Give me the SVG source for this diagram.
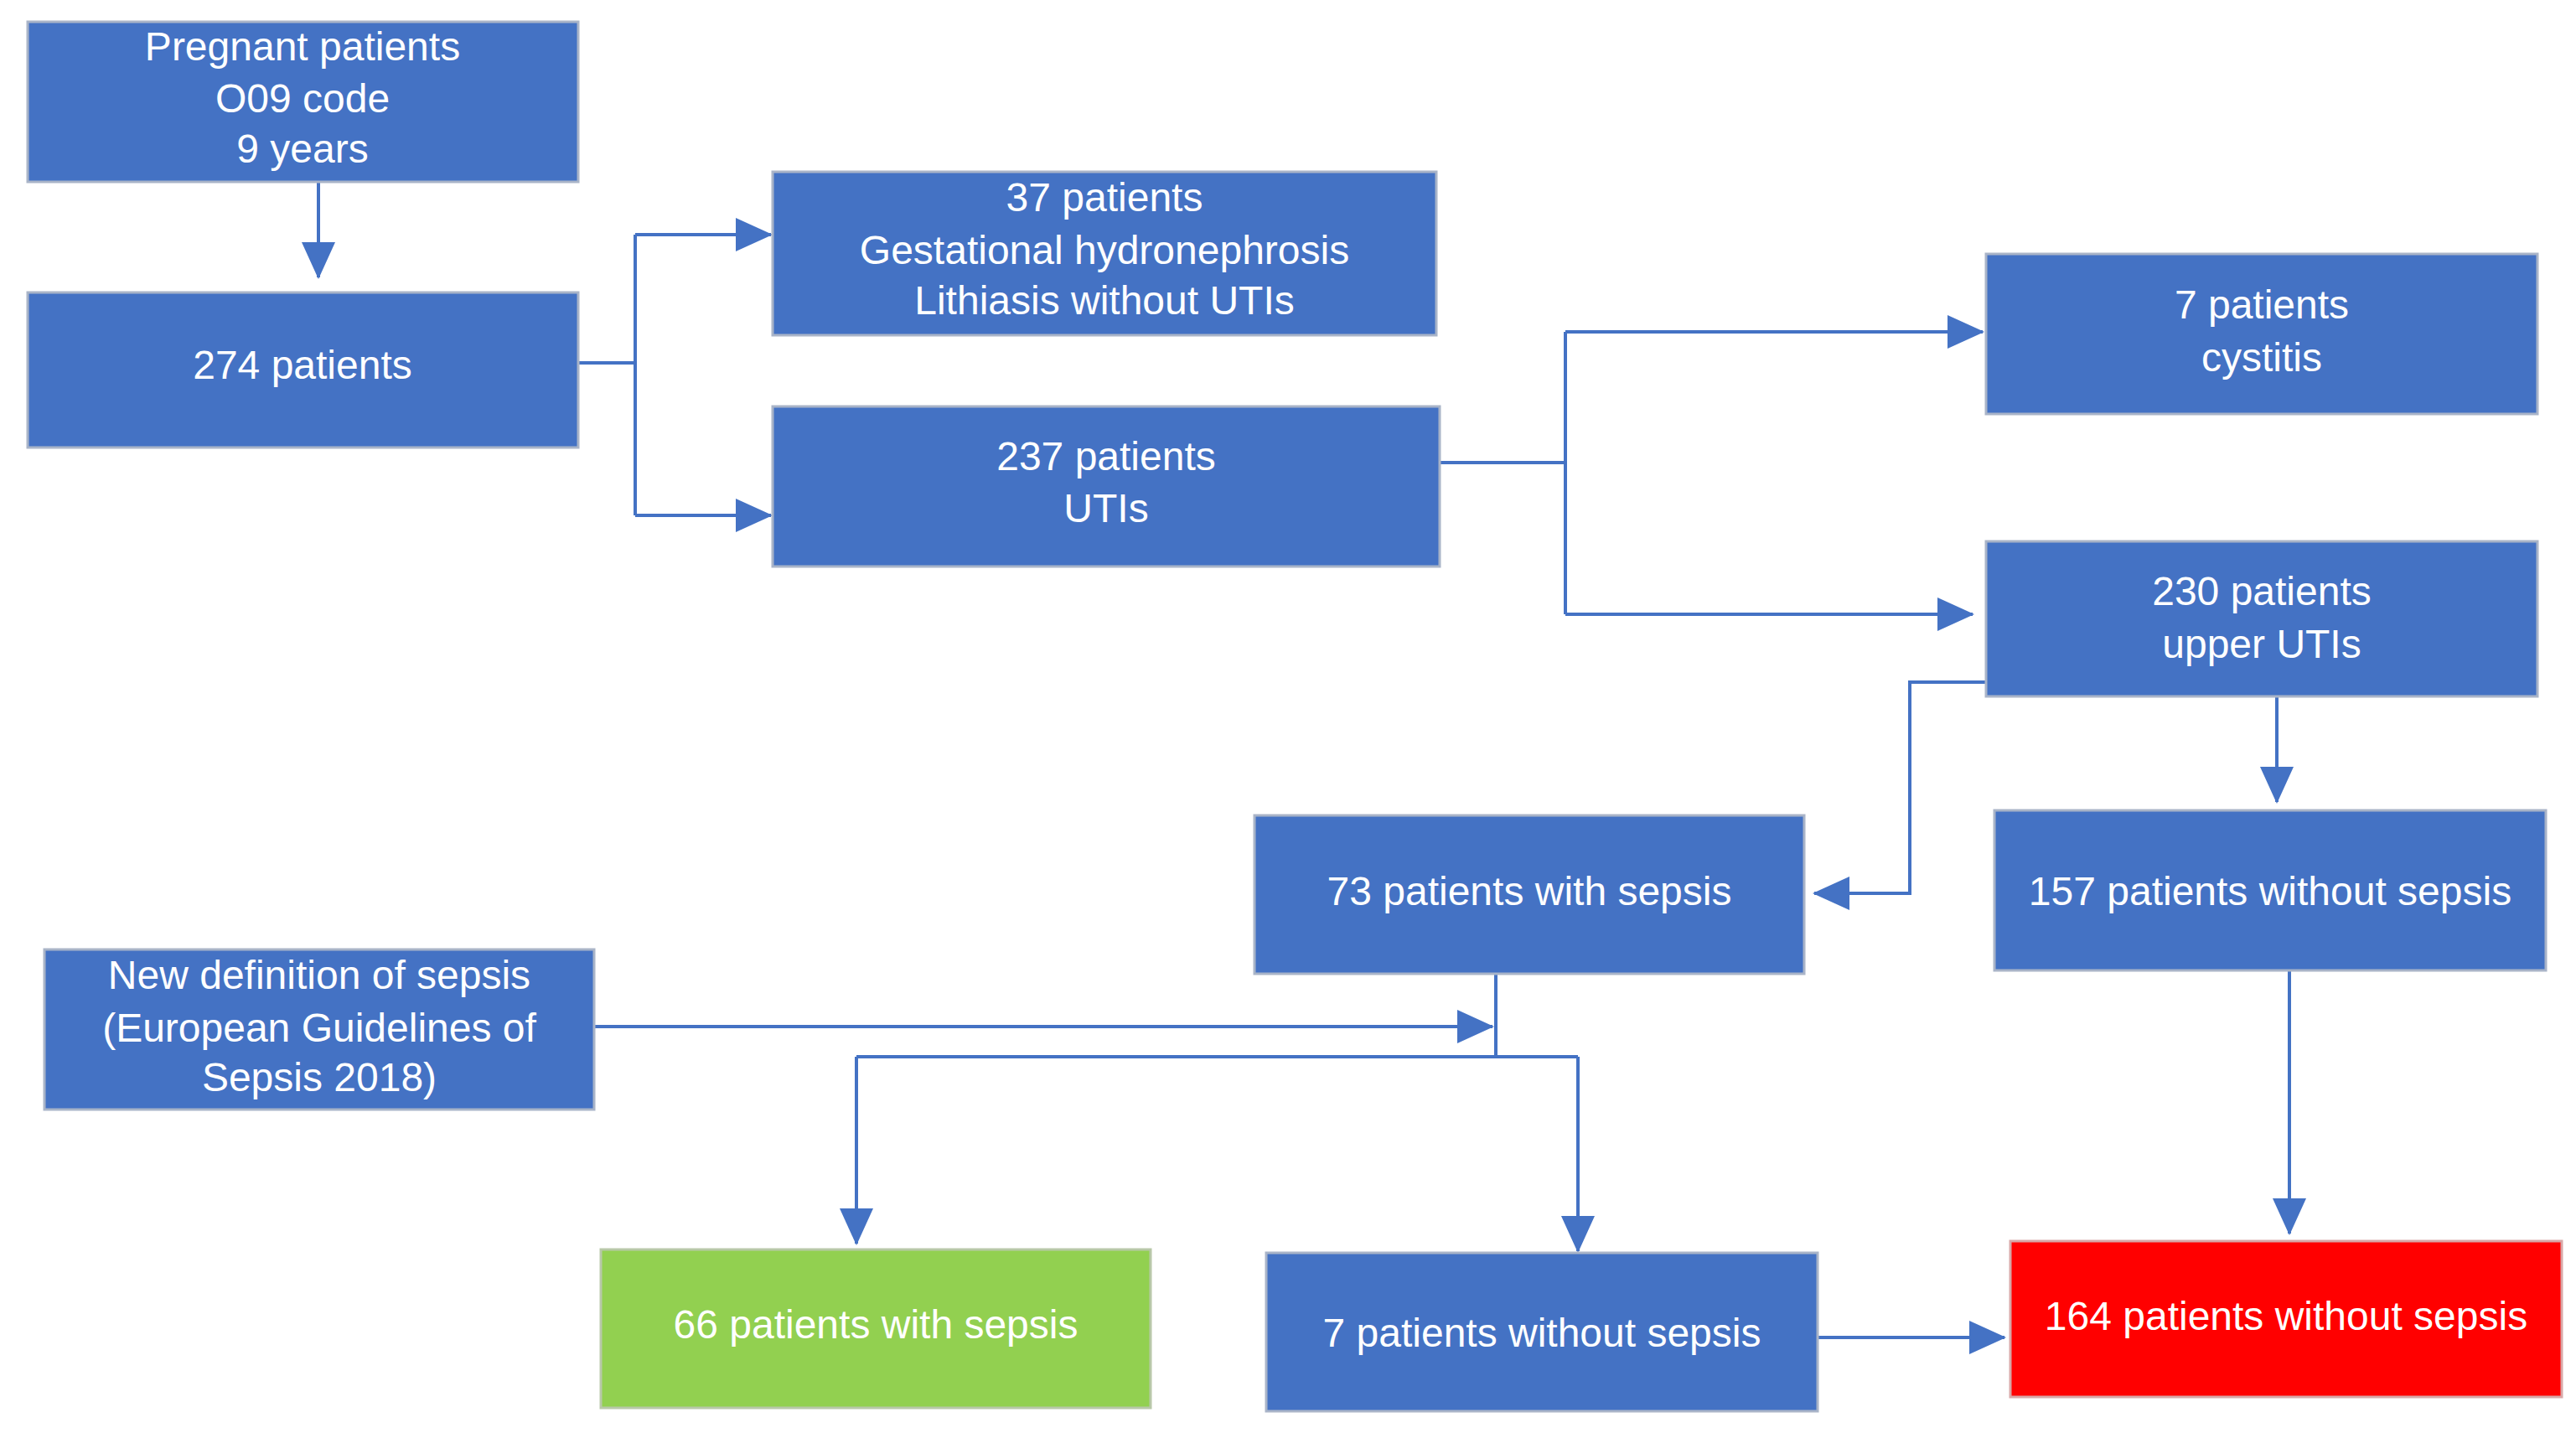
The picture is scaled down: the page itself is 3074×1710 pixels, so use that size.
<svg xmlns="http://www.w3.org/2000/svg" width="3074" height="1710" viewBox="0 0 3074 1710">
<style>
.b{fill:#4472C4;stroke:#A9B4C8;stroke-width:3}
.t{font-family:"Liberation Sans",Arial,sans-serif;font-size:48px;fill:#fff;text-anchor:middle}
.c{fill:none;stroke:#4472C4;stroke-width:4}
</style>
<defs>
<marker id="a" markerUnits="userSpaceOnUse" markerWidth="44" markerHeight="40" refX="42" refY="20" orient="auto">
<path d="M0,0 L44,20 L0,40 Z" fill="#4472C4"/>
</marker>
</defs>
<rect width="3074" height="1710" fill="#fff"/>
<g id="connectors">
<path class="c" d="M380,217 V331" marker-end="url(#a)"/>
<path class="c" d="M690,433 H758 M758,280 V615"/>
<path class="c" d="M758,280 H920" marker-end="url(#a)"/>
<path class="c" d="M758,615 H920" marker-end="url(#a)"/>
<path class="c" d="M1718,552 H1868 M1868,396 V733"/>
<path class="c" d="M1868,396 H2366" marker-end="url(#a)"/>
<path class="c" d="M1868,733 H2354" marker-end="url(#a)"/>
<path class="c" d="M2370,814 H2279 V1066 H2165" marker-end="url(#a)"/>
<path class="c" d="M2717,831 V957" marker-end="url(#a)"/>
<path class="c" d="M2732,1158 V1472" marker-end="url(#a)"/>
<path class="c" d="M709,1225 H1781" marker-end="url(#a)"/>
<path class="c" d="M1785,1162 V1261 M1022,1261 H1883"/>
<path class="c" d="M1022,1261 V1484" marker-end="url(#a)"/>
<path class="c" d="M1883,1261 V1493" marker-end="url(#a)"/>
<path class="c" d="M2169,1596 H2392" marker-end="url(#a)"/>
</g>
<g id="n1"><rect class="b" x="33" y="26" width="657" height="191"/>
<text class="t" x="361" y="72">Pregnant patients</text><text class="t" x="361" y="134">O09 code</text><text class="t" x="361" y="194">9 years</text></g>
<g id="n2"><rect class="b" x="33" y="349" width="657" height="185"/><text class="t" x="361" y="452">274 patients</text></g>
<g id="n3"><rect class="b" x="922" y="205" width="792" height="195"/>
<text class="t" x="1318" y="252">37 patients</text><text class="t" x="1318" y="315">Gestational hydronephrosis</text><text class="t" x="1318" y="375">Lithiasis without UTIs</text></g>
<g id="n4"><rect class="b" x="922" y="485" width="796" height="191"/>
<text class="t" x="1320" y="561">237 patients</text><text class="t" x="1320" y="623">UTIs</text></g>
<g id="n5"><rect class="b" x="2370" y="303" width="658" height="191"/>
<text class="t" x="2699" y="380">7 patients</text><text class="t" x="2699" y="443">cystitis</text></g>
<g id="n6"><rect class="b" x="2370" y="646" width="658" height="185"/>
<text class="t" x="2699" y="722">230 patients</text><text class="t" x="2699" y="785">upper UTIs</text></g>
<g id="n7"><rect class="b" x="1497" y="973" width="656" height="189"/><text class="t" x="1825" y="1080">73 patients with sepsis</text></g>
<g id="n8"><rect class="b" x="2380" y="967" width="658" height="191"/><text class="t" x="2709" y="1080">157 patients without sepsis</text></g>
<g id="n9"><rect class="b" x="53" y="1133" width="656" height="191"/>
<text class="t" x="381" y="1180">New definition of sepsis</text><text class="t" x="381" y="1243">(European Guidelines of</text><text class="t" x="381" y="1302">Sepsis 2018)</text></g>
<g id="n10"><rect x="717" y="1491" width="656" height="189" fill="#92D050" stroke="#B8C8A8" stroke-width="3"/><text class="t" x="1045" y="1597">66 patients with sepsis</text></g>
<g id="n11"><rect class="b" x="1511" y="1495" width="658" height="189"/><text class="t" x="1840" y="1607">7 patients without sepsis</text></g>
<g id="n12"><rect x="2399" y="1481" width="658" height="186" fill="#FF0000" stroke="#D8A8A8" stroke-width="3"/><text class="t" x="2728" y="1587">164 patients without sepsis</text></g>
</svg>
